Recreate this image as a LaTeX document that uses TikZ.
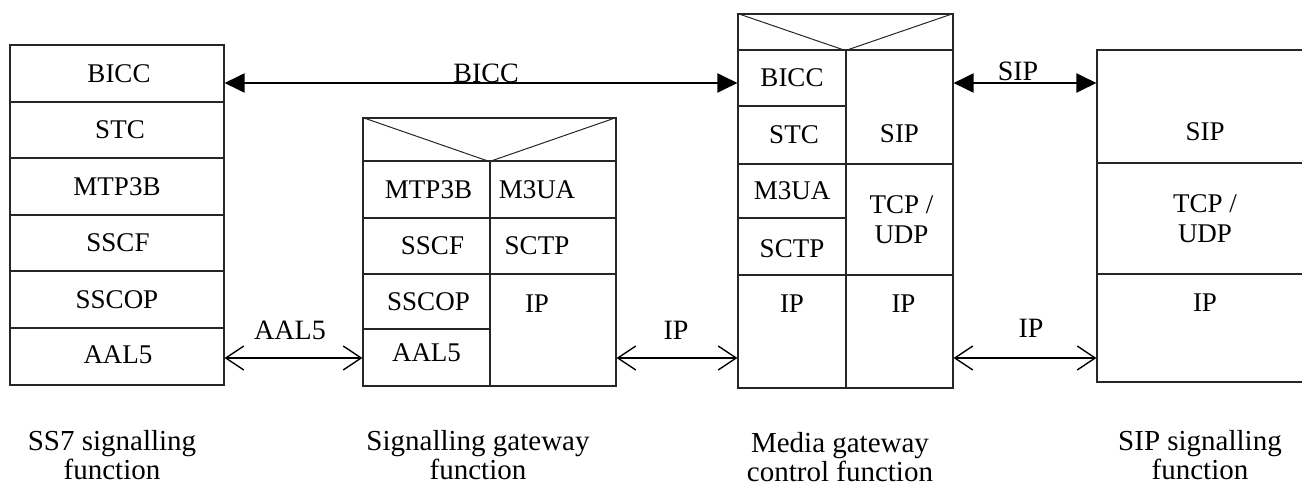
\documentclass[tikz,border=0pt]{standalone}
\usepackage{fontspec}
\setmainfont{Liberation Serif}
\usetikzlibrary{arrows.meta,fit}
\begin{document}
\begin{tikzpicture}[x=1pt,y=-1pt,
  cell/.style={draw=black!85, line width=1.1pt, inner sep=0pt},
  txt/.style={inner sep=0pt, font=\fontsize{27}{30}\selectfont, align=center},
  arrtxt/.style={inner sep=0pt, font=\fontsize{28}{30}\selectfont},
  captxt/.style={inner sep=0pt, align=center, font=\fontsize{29}{29}\selectfont},
  hdr/.style={draw=black!85, line width=1pt},
  solidarr/.style={line width=2pt, {Triangle[length=20pt,width=19pt]}-{Triangle[length=20pt,width=19pt]}},
  openarr/.style={line width=1.4pt, {Straight Barb[length=18pt,width=24pt]}-{Straight Barb[length=18pt,width=24pt]}}
]
\useasboundingbox (0,0) rectangle (1302,487);
\clip (0,0) rectangle (1302,487);
\coordinate (yB) at (0,83);
\coordinate (yC) at (0,358);

% SS7 signalling function
\node[cell, fit={(10,45) (224,102)}] (s7a) {};
\node[cell, fit={(10,102) (224,158)}] (s7b) {};
\node[cell, fit={(10,158) (224,215)}] (s7c) {};
\node[cell, fit={(10,215) (224,271)}] (s7d) {};
\node[cell, fit={(10,271) (224,328)}] (s7e) {};
\node[cell, fit={(10,328) (224,385)}] (s7f) {};
\node[txt] (t7a) at ([xshift=2pt]s7a.center) {BICC};
\node[txt] (t7b) at ([xshift=3pt]s7b.center) {STC};
\node[txt] (t7c) at (s7c.center) {MTP3B};
\node[txt] (t7d) at ([xshift=1pt]s7d.center) {SSCF};
\node[txt] (t7e) at (s7e.center) {SSCOP};
\node[txt] (t7f) at ([xshift=1pt,yshift=2pt]s7f.center) {AAL5};

% Signalling gateway function
\node[cell, fit={(363,118) (616,161)}] (sgh) {};
\draw[hdr] (sgh.north west) -- (sgh.south) -- (sgh.north east);
\node[cell, fit={(363,161) (490,218)}] (sgl1) {};
\node[cell, fit={(363,218) (490,274)}] (sgl2) {};
\node[cell, fit={(363,274) (490,329)}] (sgl3) {};
\node[cell, fit={(363,329) (490,386)}] (sgl4) {};
\node[cell, fit={(490,161) (616,218)}] (sgr1) {};
\node[cell, fit={(490,218) (616,274)}] (sgr2) {};
\node[cell, fit={(490,274) (616,386)}] (sgr3) {};
\node[txt] (tgl1) at ([xshift=2pt]sgl1.center) {MTP3B};
\node[txt] (tgl2) at ([xshift=6pt]sgl2.center) {SSCF};
\node[txt] (tgl3) at ([xshift=2pt]sgl3.center) {SSCOP};
\node[txt] (tgl4) at ([xshift=0pt,yshift=5pt]sgl4.center) {AAL5};
\node[txt] (tgr1) at ([xshift=-16pt]sgr1.center) {M3UA};
\node[txt] (tgr2) at ([xshift=-16pt]sgr2.center) {SCTP};
\node[txt] (tgr3) at ([xshift=-16pt,yshift=-30pt]sgr3.north) {IP};

% Media gateway control function
\node[cell, fit={(738,14) (953,50)}] (mgh) {};
\draw[hdr] (mgh.north west) -- (mgh.south) -- (mgh.north east);
\node[cell, fit={(738,50) (846,106)}] (mgl1) {};
\node[cell, fit={(738,106) (846,164)}] (mgl2) {};
\node[cell, fit={(738,164) (846,218)}] (mgl3) {};
\node[cell, fit={(738,218) (846,275)}] (mgl4) {};
\node[cell, fit={(738,275) (846,388)}] (mgl5) {};
\node[cell, fit={(846,50) (953,164)}] (mgr1) {};
\node[cell, fit={(846,164) (953,275)}] (mgr2) {};
\node[cell, fit={(846,275) (953,388)}] (mgr3) {};
\node[txt] (tml1) at (mgl1.center) {BICC};
\node[txt] (tml2) at ([xshift=2pt]mgl2.center) {STC};
\node[txt] (tml3) at (mgl3.center) {M3UA};
\node[txt] (tml4) at ([yshift=-2pt]mgl4.center) {SCTP};
\node[txt] (tml5) at ([yshift=-29pt]mgl5.north) {IP};
\node[txt] (tmr1) at ([yshift=-84pt]mgr1.north) {SIP};
\node[txt] (tmr2) at ([xshift=2pt]mgr2.center) {TCP /\\UDP};
\node[txt] (tmr3) at ([xshift=4pt,yshift=-29pt]mgr3.north) {IP};

% SIP signalling function
\node[cell, fit={(1097,50) (1313,163)}] (sp1) {};
\node[cell, fit={(1097,163) (1313,274)}] (sp2) {};
\node[cell, fit={(1097,274) (1313,382)}] (sp3) {};
\node[txt] (tsp1) at ([yshift=-82pt]sp1.north) {SIP};
\node[txt] (tsp2) at (sp2.center) {TCP /\\UDP};
\node[txt] (tsp3) at ([yshift=-29pt]sp3.north) {IP};

% connectors
\draw[solidarr] (s7a.east |- yB) -- (mgl1.west |- yB);
\draw[solidarr] (mgr1.east |- yB) -- (sp1.west |- yB);
\draw[openarr] (s7f.east |- yC) -- (sgl4.west |- yC);
\draw[openarr] (sgr3.east |- yC) -- (mgl5.west |- yC);
\draw[openarr] (mgr3.east |- yC) -- (sp3.west |- yC);

\node[arrtxt, anchor=base] (lbicc) at (486,83) {BICC};
\node[arrtxt, anchor=base] (lsip) at (1018,81) {SIP};
\node[arrtxt] (laal) at (290,330) {AAL5};
\node[arrtxt] (lip1) at (676,330) {IP};
\node[arrtxt] (lip2) at (1031,328) {IP};

% captions (base anchor = baseline of last line)
\node[captxt, anchor=base] (c1) at (112,479) {SS7 signalling\\function};
\node[captxt, anchor=base] (c2) at (478,479) {Signalling gateway\\function};
\node[captxt, anchor=base] (c3) at (840,481) {Media gateway\\control function};
\node[captxt, anchor=base] (c4) at (1200,479) {SIP signalling\\function};
\end{tikzpicture}
\end{document}
